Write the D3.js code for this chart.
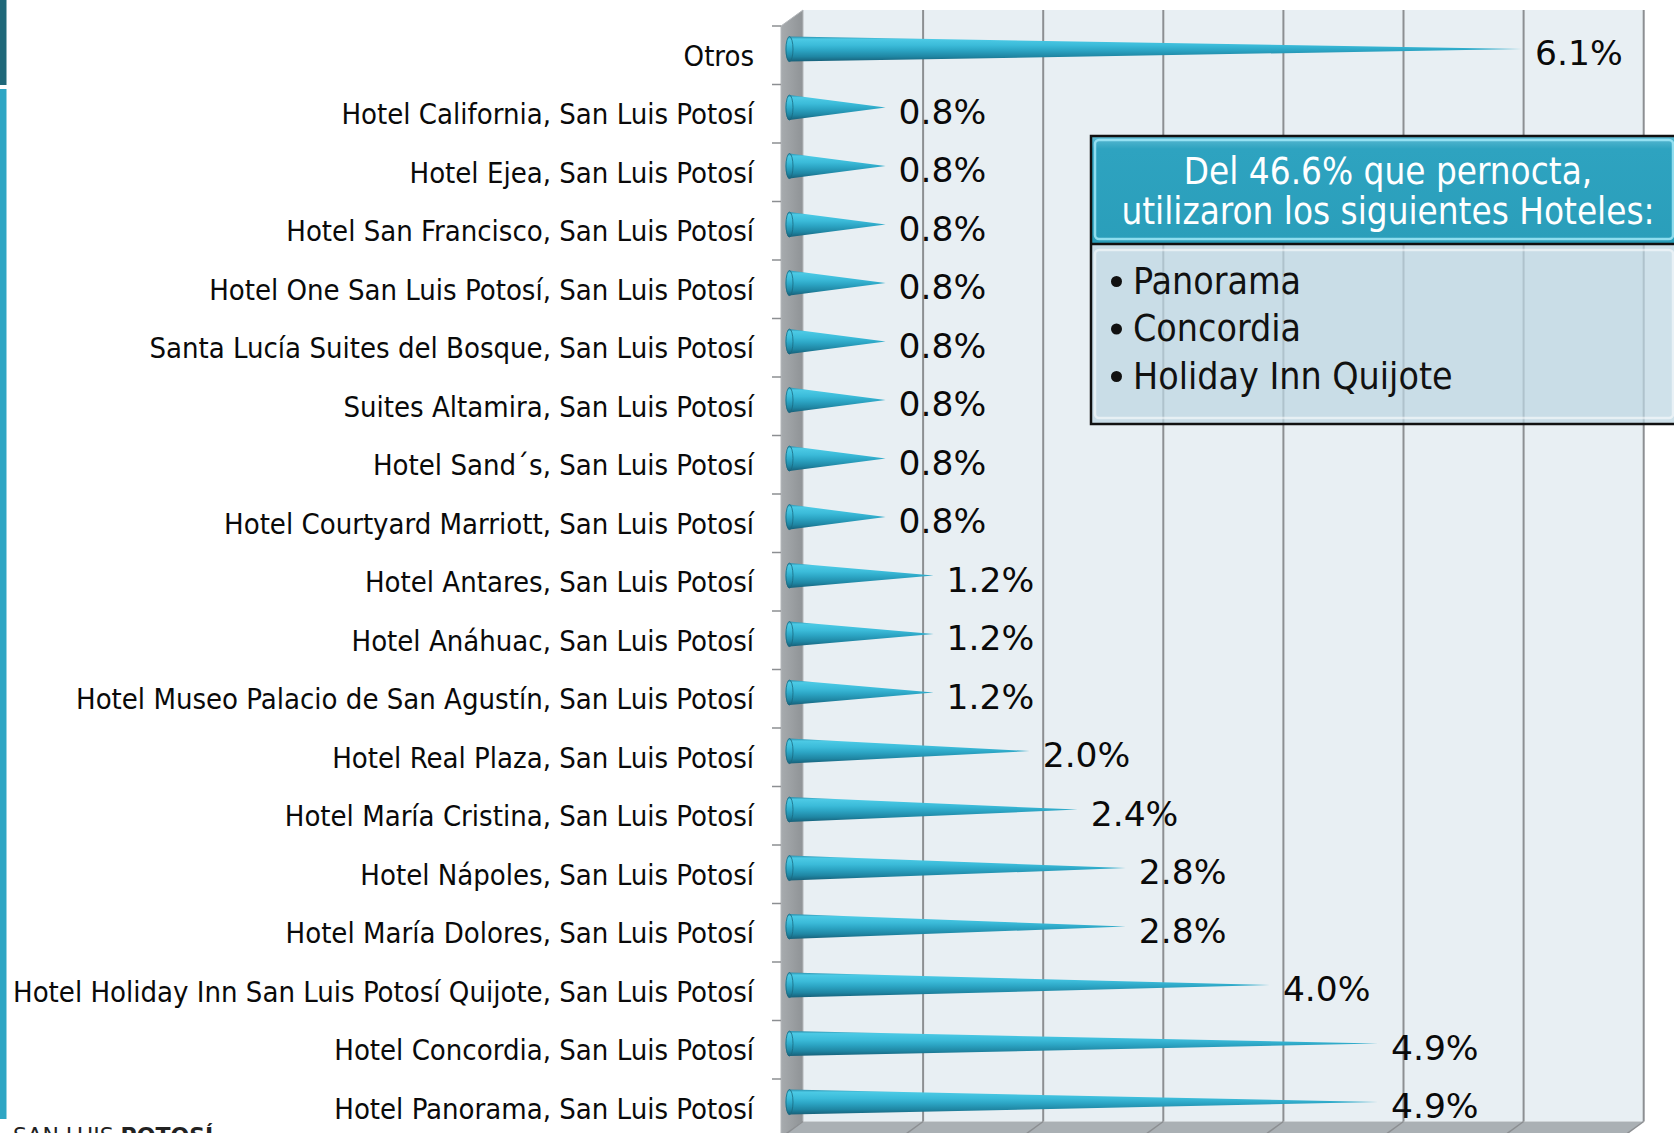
<!DOCTYPE html>
<html>
<head>
<meta charset="utf-8">
<script src="https://cdn.jsdelivr.net/npm/d3@7"></script>
<style>
  html, body { margin: 0; padding: 0; background: #ffffff; }
  svg { display: block; }
  .lbl { font-family: 'DejaVu Sans Condensed', 'DejaVu Sans', sans-serif; font-stretch: condensed; }
  .val { font-family: 'DejaVu Sans', sans-serif; }
</style>
</head>
<body>
<svg id="chart" width="1674" height="1133"></svg>
<script>
// Categories, top to bottom as they appear in the chart
var categories = [
    "Otros",
    "Hotel California, San Luis Potosí",
    "Hotel Ejea, San Luis Potosí",
    "Hotel San Francisco, San Luis Potosí",
    "Hotel One San Luis Potosí, San Luis Potosí",
    "Santa Lucía Suites del Bosque, San Luis Potosí",
    "Suites Altamira, San Luis Potosí",
    "Hotel Sand´s, San Luis Potosí",
    "Hotel Courtyard Marriott, San Luis Potosí",
    "Hotel Antares, San Luis Potosí",
    "Hotel Anáhuac, San Luis Potosí",
    "Hotel Museo Palacio de San Agustín, San Luis Potosí",
    "Hotel Real Plaza, San Luis Potosí",
    "Hotel María Cristina, San Luis Potosí",
    "Hotel Nápoles, San Luis Potosí",
    "Hotel María Dolores, San Luis Potosí",
    "Hotel Holiday Inn San Luis Potosí Quijote, San Luis Potosí",
    "Hotel Concordia, San Luis Potosí",
    "Hotel Panorama, San Luis Potosí"
];

// percentages
var values = [6.1, 0.8, 0.8, 0.8, 0.8, 0.8, 0.8, 0.8, 0.8, 1.2, 1.2, 1.2, 2.0, 2.4, 2.8, 2.8, 4.0, 4.9, 4.9];

// gridline values on the back wall (percent)
var gridTicks = [0, 1, 2, 3, 4, 5, 6, 7];

var noteTitle = ["Del 46.6% que pernocta,", "utilizaron los siguientes Hoteles:"];
var noteItems = ["Panorama", "Concordia", "Holiday Inn Quijote"];

var svg = d3.select("#chart");
var defs = svg.append("defs");

// 3D frame: front plane and depth offset
var front = {left: 781, top: 26, bottom: 1137.5},
    depth = {dx: 22, dy: -16},
    barDepth = 0.386;

var xScale = d3.scaleLinear().domain([0, 7]).range([front.left, front.left + 7 * 120.1]);
var yScale = d3.scaleBand().domain(categories).range([front.top, front.bottom]);

// gradients
var coneGrad = defs.append("linearGradient").attr("id", "cone")
    .attr("x1", 0).attr("y1", 0).attr("x2", 0).attr("y2", 1);
[["0", "#2a8eab"], ["0.1", "#4ccae5"], ["0.35", "#3bbbd9"], ["0.55", "#2ca5c4"], ["0.8", "#1f86a3"], ["1", "#175f78"]]
    .forEach(function(s) { coneGrad.append("stop").attr("offset", s[0]).attr("stop-color", s[1]); });

var headGrad = defs.append("linearGradient").attr("id", "head")
    .attr("x1", 0).attr("y1", 0).attr("x2", 0).attr("y2", 1);
headGrad.append("stop").attr("offset", "0").attr("stop-color", "#5fbcd4");
headGrad.append("stop").attr("offset", "0.12").attr("stop-color", "#2ea3c0");
headGrad.append("stop").attr("offset", "1").attr("stop-color", "#2a9eba");

var wallGrad = defs.append("linearGradient").attr("id", "wall")
    .attr("x1", 0).attr("y1", 0).attr("x2", 1).attr("y2", 0);
wallGrad.append("stop").attr("offset", "0").attr("stop-color", "#a7abae");
wallGrad.append("stop").attr("offset", "1").attr("stop-color", "#8f9396");

// left decoration strip of the slide
svg.append("rect").attr("x", 0).attr("y", 0).attr("width", 6.5).attr("height", 85).attr("fill", "#1f6879");
svg.append("rect").attr("x", 0).attr("y", 89).attr("width", 6.5).attr("height", 1030).attr("fill", "#2ea6c4");

var backLeft = front.left + depth.dx,
    backTop = front.top + depth.dy,
    backBottom = front.bottom + depth.dy,
    backRight = xScale(7) + depth.dx;

// back wall
svg.append("rect")
    .attr("x", backLeft).attr("y", backTop)
    .attr("width", backRight - backLeft).attr("height", backBottom - backTop)
    .attr("fill", "#e8eff3");

// floor
svg.append("polygon")
    .attr("points", [[backLeft, backBottom], [backRight, backBottom], [xScale(7), front.bottom], [front.left, front.bottom]].join(" "))
    .attr("fill", "#aab0b4");

// side wall
svg.append("polygon")
    .attr("points", [[front.left, front.top], [backLeft, backTop], [backLeft, backBottom], [front.left, front.bottom]].join(" "))
    .attr("fill", "url(#wall)")
    .attr("stroke", "#b4b8bb").attr("stroke-width", 1);

// gridlines on back wall + floor
var grid = svg.append("g");
grid.selectAll("line.v").data(gridTicks.slice(1)).enter().append("line")
    .attr("class", "v")
    .attr("x1", function(d) { return xScale(d) + depth.dx; })
    .attr("x2", function(d) { return xScale(d) + depth.dx; })
    .attr("y1", backTop).attr("y2", backBottom)
    .attr("stroke", "#8c8f92").attr("stroke-width", 2);
grid.selectAll("line.f").data(gridTicks).enter().append("line")
    .attr("class", "f")
    .attr("x1", function(d) { return xScale(d) + depth.dx; })
    .attr("x2", function(d) { return xScale(d); })
    .attr("y1", backBottom).attr("y2", front.bottom)
    .attr("stroke", "#8c8f92").attr("stroke-width", 1.5);

// axis ticks at category boundaries
var bounds = categories.map(function(c) { return yScale(c); });
svg.append("g").selectAll("line").data(bounds).enter().append("line")
    .attr("x1", front.left - 9).attr("x2", front.left)
    .attr("y1", function(d) { return d; }).attr("y2", function(d) { return d; })
    .attr("stroke", "#8c8f92").attr("stroke-width", 1.5);

// category labels
svg.append("g").selectAll("text").data(categories).enter().append("text")
    .attr("class", "lbl")
    .attr("x", 754)
    .attr("y", function(d) { return yScale(d) + yScale.bandwidth() / 2 + 10.5; })
    .attr("text-anchor", "end")
    .attr("font-size", 29)
    .attr("fill", "#0a0a0a")
    .text(function(d) { return d; });

// cones
var bx = depth.dx * barDepth, by = depth.dy * barDepth, r = 12.5;
var cones = svg.append("g").selectAll("g").data(values).enter().append("g");
cones.append("path")
    .attr("d", function(d, i) {
        var cy = yScale(categories[i]) + yScale.bandwidth() / 2 + by,
            x0 = xScale(0) + bx,
            tip = xScale(d) + bx;
        return "M" + x0 + "," + (cy - r) + "L" + tip + "," + cy + "L" + x0 + "," + (cy + r) +
            "A4," + r + " 0 0 1 " + x0 + "," + (cy - r) + "Z";
    })
    .attr("fill", "url(#cone)");
cones.append("ellipse")
    .attr("cx", xScale(0) + bx)
    .attr("cy", function(d, i) { return yScale(categories[i]) + yScale.bandwidth() / 2 + by; })
    .attr("rx", 3.5).attr("ry", r)
    .attr("fill", "url(#cone)")
    .attr("stroke", "#1b6a80").attr("stroke-width", 0.8);

// value labels
svg.append("g").selectAll("text").data(values).enter().append("text")
    .attr("class", "val")
    .attr("x", function(d) { return xScale(d) + bx + 13; })
    .attr("y", function(d, i) { return yScale(categories[i]) + yScale.bandwidth() / 2 + 10; })
    .attr("font-size", 34.5)
    .attr("fill", "#0a0a0a")
    .text(function(d) { return d3.format(".1f")(d) + "%"; });

// note box
var note = svg.append("g");
var nx = 1091, nw = 600, ny = 136, headH = 108, nh = 288;
note.append("rect").attr("x", nx).attr("y", ny + headH).attr("width", nw).attr("height", nh - headH)
    .attr("fill", "#bcd5e2").attr("fill-opacity", 0.72);
note.append("rect").attr("x", nx).attr("y", ny).attr("width", nw).attr("height", headH)
    .attr("fill", "url(#head)");
note.append("rect").attr("x", nx + 4).attr("y", ny + 4).attr("width", 578).attr("height", headH - 9)
    .attr("rx", 4).attr("fill", "none").attr("stroke", "#a8ecfb").attr("stroke-width", 2.5).attr("stroke-opacity", 0.8);
note.append("rect").attr("x", nx + 4).attr("y", ny + headH + 6).attr("width", 578).attr("height", nh - headH - 12)
    .attr("rx", 4).attr("fill", "none").attr("stroke", "#ffffff").attr("stroke-width", 2.5).attr("stroke-opacity", 0.55);
note.append("line").attr("x1", nx).attr("x2", nx + nw).attr("y1", ny + headH).attr("y2", ny + headH)
    .attr("stroke", "#111").attr("stroke-width", 2.5);
note.append("rect").attr("x", nx).attr("y", ny).attr("width", nw).attr("height", nh)
    .attr("fill", "none").attr("stroke", "#111").attr("stroke-width", 2.5);

note.selectAll("text.t").data(noteTitle).enter().append("text")
    .attr("class", "lbl t")
    .attr("x", 1388)
    .attr("y", function(d, i) { return 183.5 + i * 40.5; })
    .attr("text-anchor", "middle")
    .attr("font-size", 36.5)
    .attr("fill", "#ffffff")
    .text(function(d) { return d; });

var items = note.selectAll("g.item").data(noteItems).enter().append("g").attr("class", "item");
items.append("circle")
    .attr("cx", 1116.5)
    .attr("cy", function(d, i) { return 293.5 + i * 47.5 - 12; })
    .attr("r", 5.5).attr("fill", "#111");
items.append("text")
    .attr("class", "lbl")
    .attr("x", 1133)
    .attr("y", function(d, i) { return 293.5 + i * 47.5; })
    .attr("font-size", 37.2)
    .attr("fill", "#111")
    .text(function(d) { return d; });

// slide footer peeking in at the bottom
var foot = svg.append("text")
    .attr("x", 13).attr("y", 1143)
    .attr("font-family", "'DejaVu Sans', sans-serif")
    .attr("font-size", 22).attr("fill", "#222");
foot.append("tspan").text("SAN LUIS ");
foot.append("tspan").attr("font-weight", "bold").text("POTOSÍ");
</script>
</body>
</html>
